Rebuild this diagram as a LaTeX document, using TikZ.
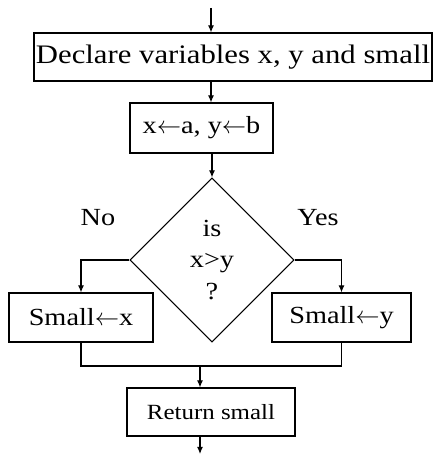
\documentclass[tikz,border=0pt]{standalone}
\usepackage{fontspec}
\setmainfont{Liberation Serif}[FakeStretch=1.15]
\usetikzlibrary{shapes.geometric,arrows.meta}
\begin{document}
\begin{tikzpicture}[x=0.03cm, y=-0.03cm, line width=0.9pt,
        box/.style={draw, inner sep=0pt, font=\fontsize{21}{25}\selectfont},
        flow/.style={-{Latex[length=6pt,width=5pt]}}]
        \useasboundingbox (0,0) rectangle (433,454);
        \coordinate (start) at (211,8);
        \node[box, minimum width=11.94cm, minimum height=1.44cm, font=\fontsize{22.8}{27}\selectfont] (decl) at (233,57) {Declare variables x, y and small};
        \node[box, minimum width=4.29cm, minimum height=1.5cm] (init) at (201.5,128) {x$\leftarrow$a, y$\leftarrow$b};
        \node[draw, diamond, aspect=1, inner sep=0pt, minimum width=4.92cm, minimum height=4.92cm,
            align=center, font=\fontsize{21}{27}\selectfont] (test) at (212,260) {is\\x>y\\?};
        \node[box, minimum width=4.32cm, minimum height=1.47cm] (small1) at (81,317.5) {Small$\leftarrow$x};
        \node[box, minimum width=4.17cm, minimum height=1.47cm] (small2) at (341.5,317.5) {Small$\leftarrow$y};
        \node[box, minimum width=5.04cm, minimum height=1.44cm, font=\fontsize{18.5}{22}\selectfont] (ret) at (211,412) {Return small};
        \node[font=\fontsize{21}{25}\selectfont] (no) at (98,218) {No};
        \node[font=\fontsize{21}{25}\selectfont] (yes) at (318,218) {Yes};
        \coordinate (join) at (200,366);
        \coordinate (stop) at (200,454);

        \draw[flow] (start) -- (start |- decl.north);
        \draw[flow] (start |- decl.south) -- (start |- init.north);
        \draw[flow] (test.north |- init.south) -- (test.north);
        \draw[flow] (test.west) -| (small1.north);
        \draw[flow] (test.east) -| (small2.north);
        \draw (small1.south) |- (join) -| (small2.south);
        \draw[flow] (join) -- (join |- ret.north);
        \draw[flow] (join |- ret.south) -- (stop);
    \end{tikzpicture}
\end{document}
